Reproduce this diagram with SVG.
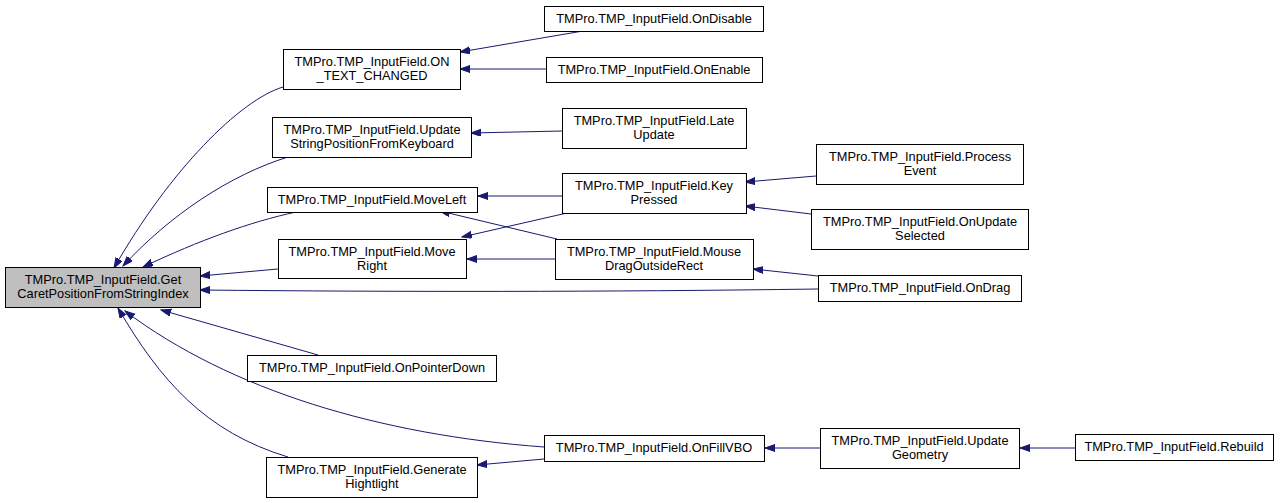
<svg xmlns="http://www.w3.org/2000/svg" width="1283" height="503" viewBox="0 0 1283 503">
<style>
.n rect{fill:#fff;stroke:#000;stroke-width:1}
.n text{font-family:"Liberation Sans",Arial,sans-serif;font-size:12.8px;fill:#000;text-anchor:middle}
.e path{fill:none;stroke:#191970;stroke-width:1;marker-end:url(#ah)}
</style>
<defs>
<marker id="ah" markerUnits="userSpaceOnUse" markerWidth="11" markerHeight="8" refX="10" refY="3.5" orient="auto">
<path d="M0,0 L10,3.5 L0,7 z" fill="#191970" stroke="#191970" stroke-width="1"/>
</marker>
</defs>
<rect width="1283" height="503" fill="#fff"/>
<g id="edges" class="e">
<path d="M283,87 C240,100 170,170 114,268"/>
<path d="M288,157 C230,175 170,215 123,266"/>
<path d="M296,212 C250,222 200,240 143,267"/>
<path d="M278,269 L200,276"/>
<path d="M818,289 C600,292 400,292 200,290"/>
<path d="M318,355 L161,310"/>
<path d="M544,447 C380,435 230,390 125,311"/>
<path d="M288,457 C205,432 160,380 118,308"/>
<path d="M583,31 L460,52"/>
<path d="M546,69 L460,69"/>
<path d="M562,131 L471,133"/>
<path d="M562,196 L478,196"/>
<path d="M567,213 L462,237"/>
<path d="M557,239 L440,211"/>
<path d="M555,259 L467,259"/>
<path d="M816,176 L745,182"/>
<path d="M811,214 L745,206"/>
<path d="M818,276 L753,269"/>
<path d="M820,448 L765,448"/>
<path d="M1075,448 L1020,448"/>
<path d="M544,459 L477,465"/>
</g>
<g id="root" class="n"><rect x="5.5" y="267.5" width="195" height="40" style="fill:#bfbfbf"/><text x="103" y="284">TMPro.TMP_InputField.Get</text><text x="103" y="298">CaretPositionFromStringIndex</text></g>
<g id="onTextChanged" class="n"><rect x="283.5" y="49.5" width="177" height="40"/><text x="372" y="66">TMPro.TMP_InputField.ON</text><text x="372" y="80">_TEXT_CHANGED</text></g>
<g id="updateStringPos" class="n"><rect x="272.5" y="117.5" width="199" height="40"/><text x="372" y="134">TMPro.TMP_InputField.Update</text><text x="372" y="148">StringPositionFromKeyboard</text></g>
<g id="moveLeft" class="n"><rect x="267.5" y="187.5" width="210" height="25"/><text x="372" y="204">TMPro.TMP_InputField.MoveLeft</text></g>
<g id="moveRight" class="n"><rect x="278.5" y="239.5" width="188" height="39"/><text x="372" y="256">TMPro.TMP_InputField.Move</text><text x="372" y="270">Right</text></g>
<g id="onPointerDown" class="n"><rect x="247.5" y="355.5" width="249" height="26"/><text x="372" y="372">TMPro.TMP_InputField.OnPointerDown</text></g>
<g id="generateHighlight" class="n"><rect x="266.5" y="457.5" width="211" height="40"/><text x="372" y="474">TMPro.TMP_InputField.Generate</text><text x="372" y="488">Hightlight</text></g>
<g id="onDisable" class="n"><rect x="544.5" y="6.5" width="219" height="25"/><text x="654" y="23">TMPro.TMP_InputField.OnDisable</text></g>
<g id="onEnable" class="n"><rect x="546.5" y="57.5" width="216" height="25"/><text x="654" y="74">TMPro.TMP_InputField.OnEnable</text></g>
<g id="lateUpdate" class="n"><rect x="562.5" y="108.5" width="184" height="40"/><text x="654" y="125">TMPro.TMP_InputField.Late</text><text x="654" y="139">Update</text></g>
<g id="keyPressed" class="n"><rect x="562.5" y="173.5" width="184" height="40"/><text x="654" y="190">TMPro.TMP_InputField.Key</text><text x="654" y="204">Pressed</text></g>
<g id="mouseDrag" class="n"><rect x="555.5" y="239.5" width="198" height="40"/><text x="654" y="256">TMPro.TMP_InputField.Mouse</text><text x="654" y="270">DragOutsideRect</text></g>
<g id="onFillVBO" class="n"><rect x="544.5" y="435.5" width="220" height="26"/><text x="654" y="452">TMPro.TMP_InputField.OnFillVBO</text></g>
<g id="processEvent" class="n"><rect x="816.5" y="144.5" width="207" height="40"/><text x="920" y="161">TMPro.TMP_InputField.Process</text><text x="920" y="175">Event</text></g>
<g id="onUpdateSelected" class="n"><rect x="811.5" y="209.5" width="217" height="40"/><text x="920" y="226">TMPro.TMP_InputField.OnUpdate</text><text x="920" y="240">Selected</text></g>
<g id="onDrag" class="n"><rect x="818.5" y="275.5" width="203" height="26"/><text x="920" y="292">TMPro.TMP_InputField.OnDrag</text></g>
<g id="updateGeometry" class="n"><rect x="820.5" y="428.5" width="199" height="40"/><text x="920" y="445">TMPro.TMP_InputField.Update</text><text x="920" y="459">Geometry</text></g>
<g id="rebuild" class="n"><rect x="1075.5" y="434.5" width="198" height="26"/><text x="1174" y="451">TMPro.TMP_InputField.Rebuild</text></g>
</svg>
